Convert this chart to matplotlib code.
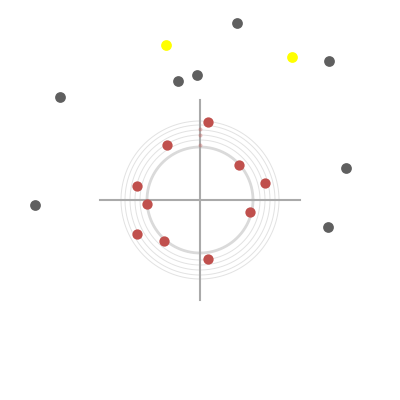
import numpy as np
import matplotlib
matplotlib.use("Agg")
import matplotlib.pyplot as plt

# points on the ring (red)
ring_x = [0.08, -0.33, 0.39, 0.65, -0.63, -0.53, 0.50, -0.63, -0.36, 0.08]
ring_y = [0.78, 0.55, 0.35, 0.17, 0.14, -0.04, -0.12, -0.34, -0.41, -0.59]

# scattered outer points (dark gray)
outer_x = [0.37, 1.29, -0.03, -0.22, -1.40, 1.46, -1.65, 1.28]
outer_y = [1.77, 1.39, 1.25, 1.19, 1.03, 0.32, -0.05, -0.27]

# highlighted points (yellow)
hl_x = [-0.34, 0.92]
hl_y = [1.55, 1.43]

# faint marks on the vertical axis
axis_marks_y = [0.55, 0.65, 0.71]

# ring radii
radii = [0.60, 0.65, 0.70, 0.75, 0.79]
inner_radius = 0.53

fig = plt.figure(figsize=(4, 4), dpi=100)
ax = fig.add_axes([0, 0, 1, 1])
ax.set_xlim(-2, 2)
ax.set_ylim(-2, 2)
ax.set_aspect("equal")
ax.axis("off")

t = np.linspace(0, 2 * np.pi, 400)
for r in radii:
    ax.plot(r * np.cos(t), r * np.sin(t), color="#e2e2e2", lw=0.7, zorder=1)
ax.plot(inner_radius * np.cos(t), inner_radius * np.sin(t), color="#dadada", lw=2.0, zorder=1)

# crosshair
ax.plot([-1, 1], [0, 0], color="#aaaaaa", lw=1.5, zorder=2)
ax.plot([0, 0], [-1, 1], color="#aaaaaa", lw=1.5, zorder=2)

ax.scatter([0] * len(axis_marks_y), axis_marks_y, s=8, color="#c25552", alpha=0.35, lw=0, zorder=3)
ax.scatter(ring_x, ring_y, s=55, color="#c0504d", lw=0, zorder=4)
ax.scatter(outer_x, outer_y, s=60, color="#5f5f5f", lw=0, zorder=4)
ax.scatter(hl_x, hl_y, s=60, color="#ffff00", lw=0, zorder=4)

fig.savefig("out.png", dpi=100, facecolor="white")
